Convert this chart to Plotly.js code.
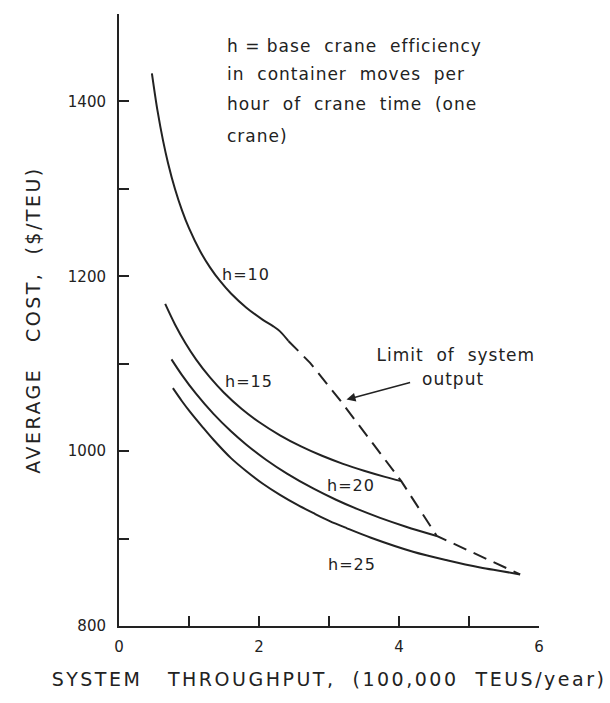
<!DOCTYPE html>
<html>
<head>
<meta charset="utf-8">
<script src="https://cdn.plot.ly/plotly-3.0.1.min.js"></script>
<style>html,body{margin:0;padding:0;background:#fff;}</style>
</head>
<body>
<div id="chart" style="width:610px;height:703px;"></div>
<script>
// Series data (x: 100,000 TEUs/year, y: $/TEU)
const h10X = [0.47, 0.55, 0.63, 0.70, 0.80, 0.90, 1.00, 1.16, 1.30, 1.44, 1.60, 1.82, 2.05, 2.20, 2.30, 2.42];
const h10Y = [1432.2, 1389.4, 1354.9, 1329.7, 1299.8, 1275.4, 1255.0, 1228.6, 1210.2, 1194.9, 1180.3, 1164.1, 1150.5, 1143.0, 1137.0, 1126.0];

const h15X = [0.66, 0.80, 0.95, 1.10, 1.30, 1.50, 1.75, 2.00, 2.30, 2.60, 2.90, 3.20, 3.50, 3.80, 4.03];
const h15Y = [1168.4, 1144.9, 1123.4, 1105.0, 1084.3, 1066.8, 1048.5, 1033.3, 1018.1, 1005.4, 994.7, 985.5, 977.6, 970.6, 965.8];

const h20X = [0.75, 0.90, 1.10, 1.35, 1.60, 1.82, 2.10, 2.40, 2.78, 3.10, 3.40, 3.73, 4.10, 4.54];
const h20Y = [1105.0, 1087.0, 1065.7, 1042.6, 1022.7, 1007.4, 990.2, 974.3, 957.0, 944.4, 933.9, 923.7, 913.6, 903.0];

const h25X = [0.77, 0.90, 1.01, 1.20, 1.35, 1.60, 1.82, 2.05, 2.30, 2.55, 2.78, 3.01, 3.25, 3.60, 4.20, 4.70, 5.16, 5.45, 5.73];
const h25Y = [1072.0, 1057.1, 1045.5, 1027.0, 1013.0, 992.0, 977.0, 963.0, 950.0, 938.5, 929.0, 920.0, 912.0, 901.0, 885.0, 875.0, 867.0, 863.0, 859.0];

const limitX = [2.42, 2.73, 3.16, 3.59, 4.03, 4.54, 5.73];
const limitY = [1126, 1101, 1058, 1012, 966, 903, 859];

const curveLabels = ["h=10", "h=15", "h=20", "h=25"];
const labelX = [1.82, 1.85, 3.32, 3.33];
const labelY = [1202, 1080, 961, 870];

const noteLines = ["h = base  crane  efficiency", "in  container  moves  per", "hour  of  crane  time  (one", "crane)"];
const noteX = 1.52;
const noteY = [1463, 1431, 1397, 1360];

const limitText = ["Limit  of  system", "output"];
const limitTextX = [4.81, 4.77];
const limitTextY = [1110, 1082];
const arrowTail = [4.18, 1079];
const arrowHead = [3.25, 1059];

const xTicks = [0, 1, 2, 3, 4, 5, 6];
const xTickText = ["0", "", "2", "", "4", "", "6"];
const yTicks = [800, 900, 1000, 1100, 1200, 1300, 1400, 1500];
const yTickText = ["800", "", "1000", "", "1200", "", "1400", ""];

const ink = "#222222";
const FONT = "DejaVu Sans, Liberation Sans, sans-serif";

const lineStyle = {color: ink, width: 2, shape: "spline", smoothing: 0.9};
const traces = [
  {x: h10X, y: h10Y, mode: "lines", line: lineStyle, name: "h=10"},
  {x: h15X, y: h15Y, mode: "lines", line: lineStyle, name: "h=15"},
  {x: h20X, y: h20Y, mode: "lines", line: lineStyle, name: "h=20"},
  {x: h25X, y: h25Y, mode: "lines", line: lineStyle, name: "h=25"},
  {x: limitX, y: limitY, mode: "lines", line: {color: ink, width: 2, dash: "14px,8px"}, name: "Limit"}
];

const annotations = [];
curveLabels.forEach((t, i) => annotations.push({
  x: labelX[i], y: labelY[i], xref: "x", yref: "y", text: t, showarrow: false,
  font: {family: FONT, size: 16, color: ink}, xanchor: "center", yanchor: "middle"
}));
noteLines.forEach((t, i) => annotations.push({
  x: noteX, y: noteY[i], xref: "x", yref: "y", text: t, showarrow: false, align: "left",
  font: {family: FONT, size: 17, color: ink}, xanchor: "left", yanchor: "middle"
}));
limitText.forEach((t, i) => annotations.push({
  x: limitTextX[i], y: limitTextY[i], xref: "x", yref: "y", text: t, showarrow: false,
  font: {family: FONT, size: 17, color: ink}, xanchor: "center", yanchor: "middle"
}));
annotations.push({
  x: arrowHead[0], y: arrowHead[1], ax: arrowTail[0], ay: arrowTail[1],
  xref: "x", yref: "y", axref: "x", ayref: "y", text: "", showarrow: true,
  arrowhead: 2, arrowsize: 1.2, arrowwidth: 1.5, arrowcolor: ink
});

const layout = {
  width: 610, height: 703,
  margin: {l: 119, r: 71, t: 14, b: 77},
  paper_bgcolor: "#ffffff", plot_bgcolor: "#ffffff",
  showlegend: false,
  font: {family: FONT, color: ink},
  xaxis: {
    range: [0, 6], showgrid: false, zeroline: false,
    showline: true, linecolor: ink, linewidth: 2,
    ticks: "inside", ticklen: 10, tickwidth: 2, tickcolor: ink,
    tickvals: xTicks, ticktext: xTickText, ticklabelstandoff: 6,
    tickfont: {family: FONT, size: 15, color: ink},
    title: {text: "SYSTEM   THROUGHPUT,  (100,000  TEUS/year)", font: {family: FONT, size: 19, color: ink}, standoff: 18}
  },
  yaxis: {
    range: [800, 1500], showgrid: false, zeroline: false,
    showline: true, linecolor: ink, linewidth: 2,
    ticks: "inside", ticklen: 10, tickwidth: 2, tickcolor: ink,
    tickvals: yTicks, ticktext: yTickText, ticklabelstandoff: 8,
    tickfont: {family: FONT, size: 15, color: ink},
    title: {text: "AVERAGE   COST,  ($/TEU)", font: {family: FONT, size: 19, color: ink}, standoff: 22}
  },
  annotations: annotations
};

Plotly.newPlot("chart", traces, layout, {displayModeBar: false, staticPlot: true}).then(() => {
  document.querySelectorAll("#chart text.annotation-text").forEach(el => { el.style.letterSpacing = "1px"; });
  document.querySelectorAll("#chart text.xtitle, #chart text.ytitle").forEach(el => { el.style.letterSpacing = "2.5px"; });
});
</script>
</body>
</html>
